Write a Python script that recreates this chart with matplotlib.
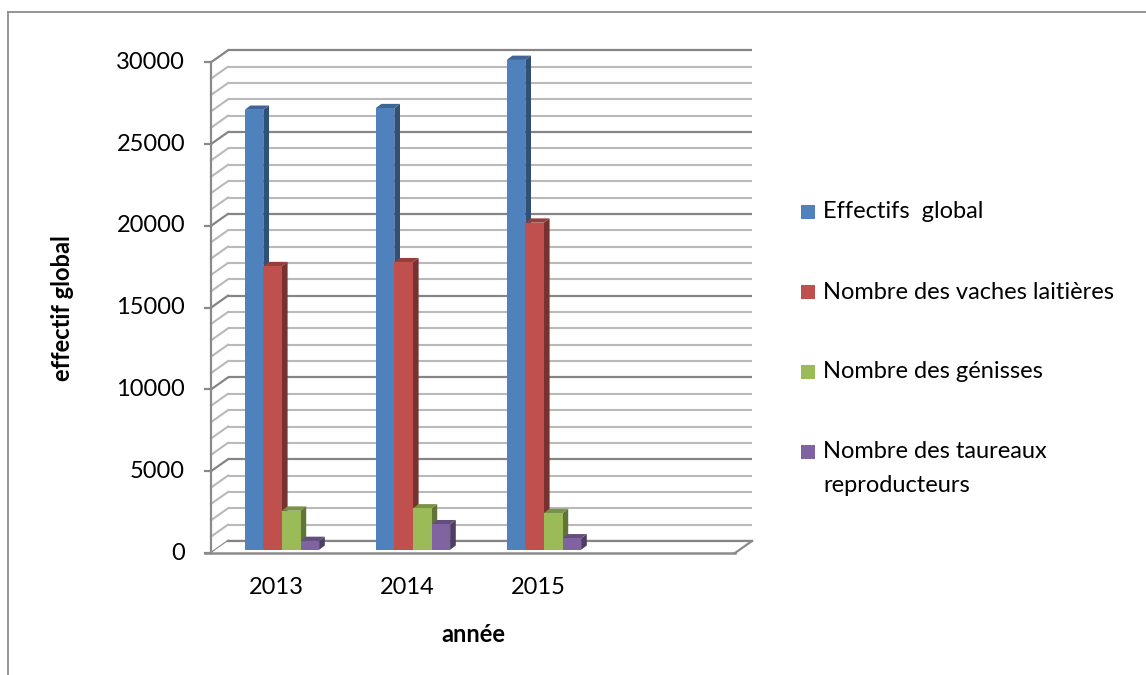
import matplotlib
matplotlib.use("Agg")
import matplotlib.pyplot as plt
from matplotlib.patches import Polygon, Rectangle
from matplotlib.lines import Line2D
from matplotlib.colors import to_rgb

# ---- data ----
years = ["2013", "2014", "2015"]
n_slots = 4  # the category axis keeps one empty trailing slot
effectif_global = [26900, 27000, 29950]
vaches_laitieres = [17340, 17580, 20000]
genisses = [2390, 2530, 2245]
taureaux = [540, 1560, 700]
series_names = ["Effectifs  global", "Nombre des vaches laitières",
                "Nombre des génisses", "Nombre des taureaux\nreproducteurs"]
series_values = [effectif_global, vaches_laitieres, genisses, taureaux]
y_ticks = [0, 5000, 10000, 15000, 20000, 25000, 30000]
y_max = 30000
minor_step = 1000

# ---- style ----
colors = ["#4F81BD", "#C0504D", "#9BBB59", "#8064A2"]
FONT = ["Lato", "DejaVu Sans"]
plt.rcParams["font.family"] = FONT
FS = 17

W, H = 1146, 675
fig = plt.figure(figsize=(W / 100, H / 100), dpi=100)
fig.patch.set_facecolor("white")

# front plane of the plot: x 211..735 px, y 553..62 px (from top)
ax_l, ax_r, ax_b, ax_t = 211, 735, 553, 62.3
ax = fig.add_axes([ax_l / W, 1 - ax_b / H, (ax_r - ax_l) / W, (ax_b - ax_t) / H])
ax.set_xlim(0, n_slots)
ax.set_ylim(0, y_max)
ax.axis("off")

sx = n_slots / (ax_r - ax_l)      # data units per pixel (x)
sy = y_max / (ax_b - ax_t)        # data units per pixel (y)

def px(dx, dy):
    return dx * sx, dy * sy

# depth of the box (back wall offset) in pixels
wall_dx, wall_dy = px(17, 12)

minor_c, major_c, edge_c = "#b9b9b9", "#858585", "#8a8a8a"

# back wall grid + left wall diagonals
for v in range(0, y_max + 1, minor_step):
    major = v % 5000 == 0
    c = major_c if major else minor_c
    lw = 1.6 if major else 1.5
    ax.plot([wall_dx, n_slots + wall_dx], [v + wall_dy, v + wall_dy],
            color=c, lw=lw, clip_on=False, zorder=1, solid_capstyle="butt")
    ax.plot([0, wall_dx], [v, v + wall_dy], color=c, lw=lw,
            clip_on=False, zorder=1)

# floor
floor = Polygon([(0, 0), (n_slots, 0), (n_slots + wall_dx, wall_dy), (wall_dx, wall_dy)],
                closed=True, facecolor="white", edgecolor="none", zorder=2, clip_on=False)
ax.add_patch(floor)
ax.plot([wall_dx, n_slots + wall_dx], [wall_dy, wall_dy], color=major_c, lw=1.6,
        clip_on=False, zorder=2)
ax.plot([n_slots, n_slots + wall_dx], [0, wall_dy], color=edge_c, lw=1.6,
        clip_on=False, zorder=2)
tick_len, _ = px(6, 0)
ax.plot([-tick_len, n_slots], [0, 0], color=edge_c, lw=1.8, clip_on=False, zorder=2)

# vertical axis line, ticks and labels
ax.plot([0, 0], [0, y_max], color=edge_c, lw=1.6, clip_on=False, zorder=2)
lab_off, _ = px(26, 0)
for t in y_ticks:
    ax.plot([-tick_len, 0], [t, t], color=edge_c, lw=1.6, clip_on=False, zorder=2)
    ax.text(-lab_off, t, f"{t}", ha="right", va="center", fontsize=FS, color="black")

# category labels
_, cat_off = px(0, 35)
for j, yr in enumerate(years):
    ax.text(j + 0.5, -cat_off, yr, ha="center", va="center", fontsize=FS, color="black")

# bars (front faces) with 3D side and top faces
bw = 0.142
group_w = bw * len(series_values)
front_dx, front_dy = px(5.4, 3.2)
bar_dx, bar_dy = px(5.7, 4.3)

def shade(c, f):
    r, g, b = to_rgb(c)
    return (r * f, g * f, b * f)

containers = []
for i, vals in enumerate(series_values):
    xs = [j + 0.5 - group_w / 2 + i * bw + front_dx for j in range(len(years))]
    cont = ax.bar(xs, vals, width=bw, bottom=front_dy, align="edge",
                  color=colors[i], edgecolor="none", clip_on=False)
    containers.append(cont)

for j in range(len(years)):
    for i, cont in enumerate(containers):
        p = cont.patches[j]
        x0, y0, w, h = p.get_x(), p.get_y(), p.get_width(), p.get_height()
        x1, y1 = x0 + w, y0 + h
        z = 10 + 3 * (j * len(containers) + i)
        side = Polygon([(x1, y0), (x1 + bar_dx, y0 + bar_dy), (x1 + bar_dx, y1 + bar_dy), (x1, y1)],
                       closed=True, facecolor=shade(colors[i], 0.62), edgecolor="none",
                       zorder=z, clip_on=False)
        top = Polygon([(x0, y1), (x1, y1), (x1 + bar_dx, y1 + bar_dy), (x0 + bar_dx, y1 + bar_dy)],
                      closed=True, facecolor=shade(colors[i], 0.78), edgecolor="none",
                      zorder=z + 1, clip_on=False)
        ax.add_patch(side)
        ax.add_patch(top)
        p.set_zorder(z + 2)

# axis titles
fig.text(63 / W, 1 - 308 / H, "effectif global", rotation=90, ha="center", va="center",
         fontsize=FS, fontweight="bold", color="black")
fig.text(473 / W, 1 - 634 / H, "année", ha="center", va="center",
         fontsize=FS, fontweight="bold", color="black")

# legend: colour key and (possibly wrapped) entry text
legend_y = [212, 292, 372, 452]
line_gap = 34
for name, c, ly in zip(series_names, colors, legend_y):
    fig.add_artist(Rectangle((801 / W, 1 - (ly + 7) / H), 14 / W, 14 / H,
                             transform=fig.transFigure, facecolor=c, edgecolor="none"))
    for k, line in enumerate(name.split("\n")):
        fig.text(823 / W, 1 - (ly + k * line_gap) / H, line, ha="left", va="center",
                 fontsize=FS, color="black")

# outer chart border (left and top edges)
fig.add_artist(Line2D([8 / W, 8 / W], [1 - 12 / H, 0], transform=fig.transFigure,
                      color="#8c8c8c", lw=1.3))
fig.add_artist(Line2D([8 / W, 1], [1 - 12 / H, 1 - 12 / H], transform=fig.transFigure,
                      color="#8c8c8c", lw=1.3))

fig.savefig("out.png", dpi=100, facecolor="white")
